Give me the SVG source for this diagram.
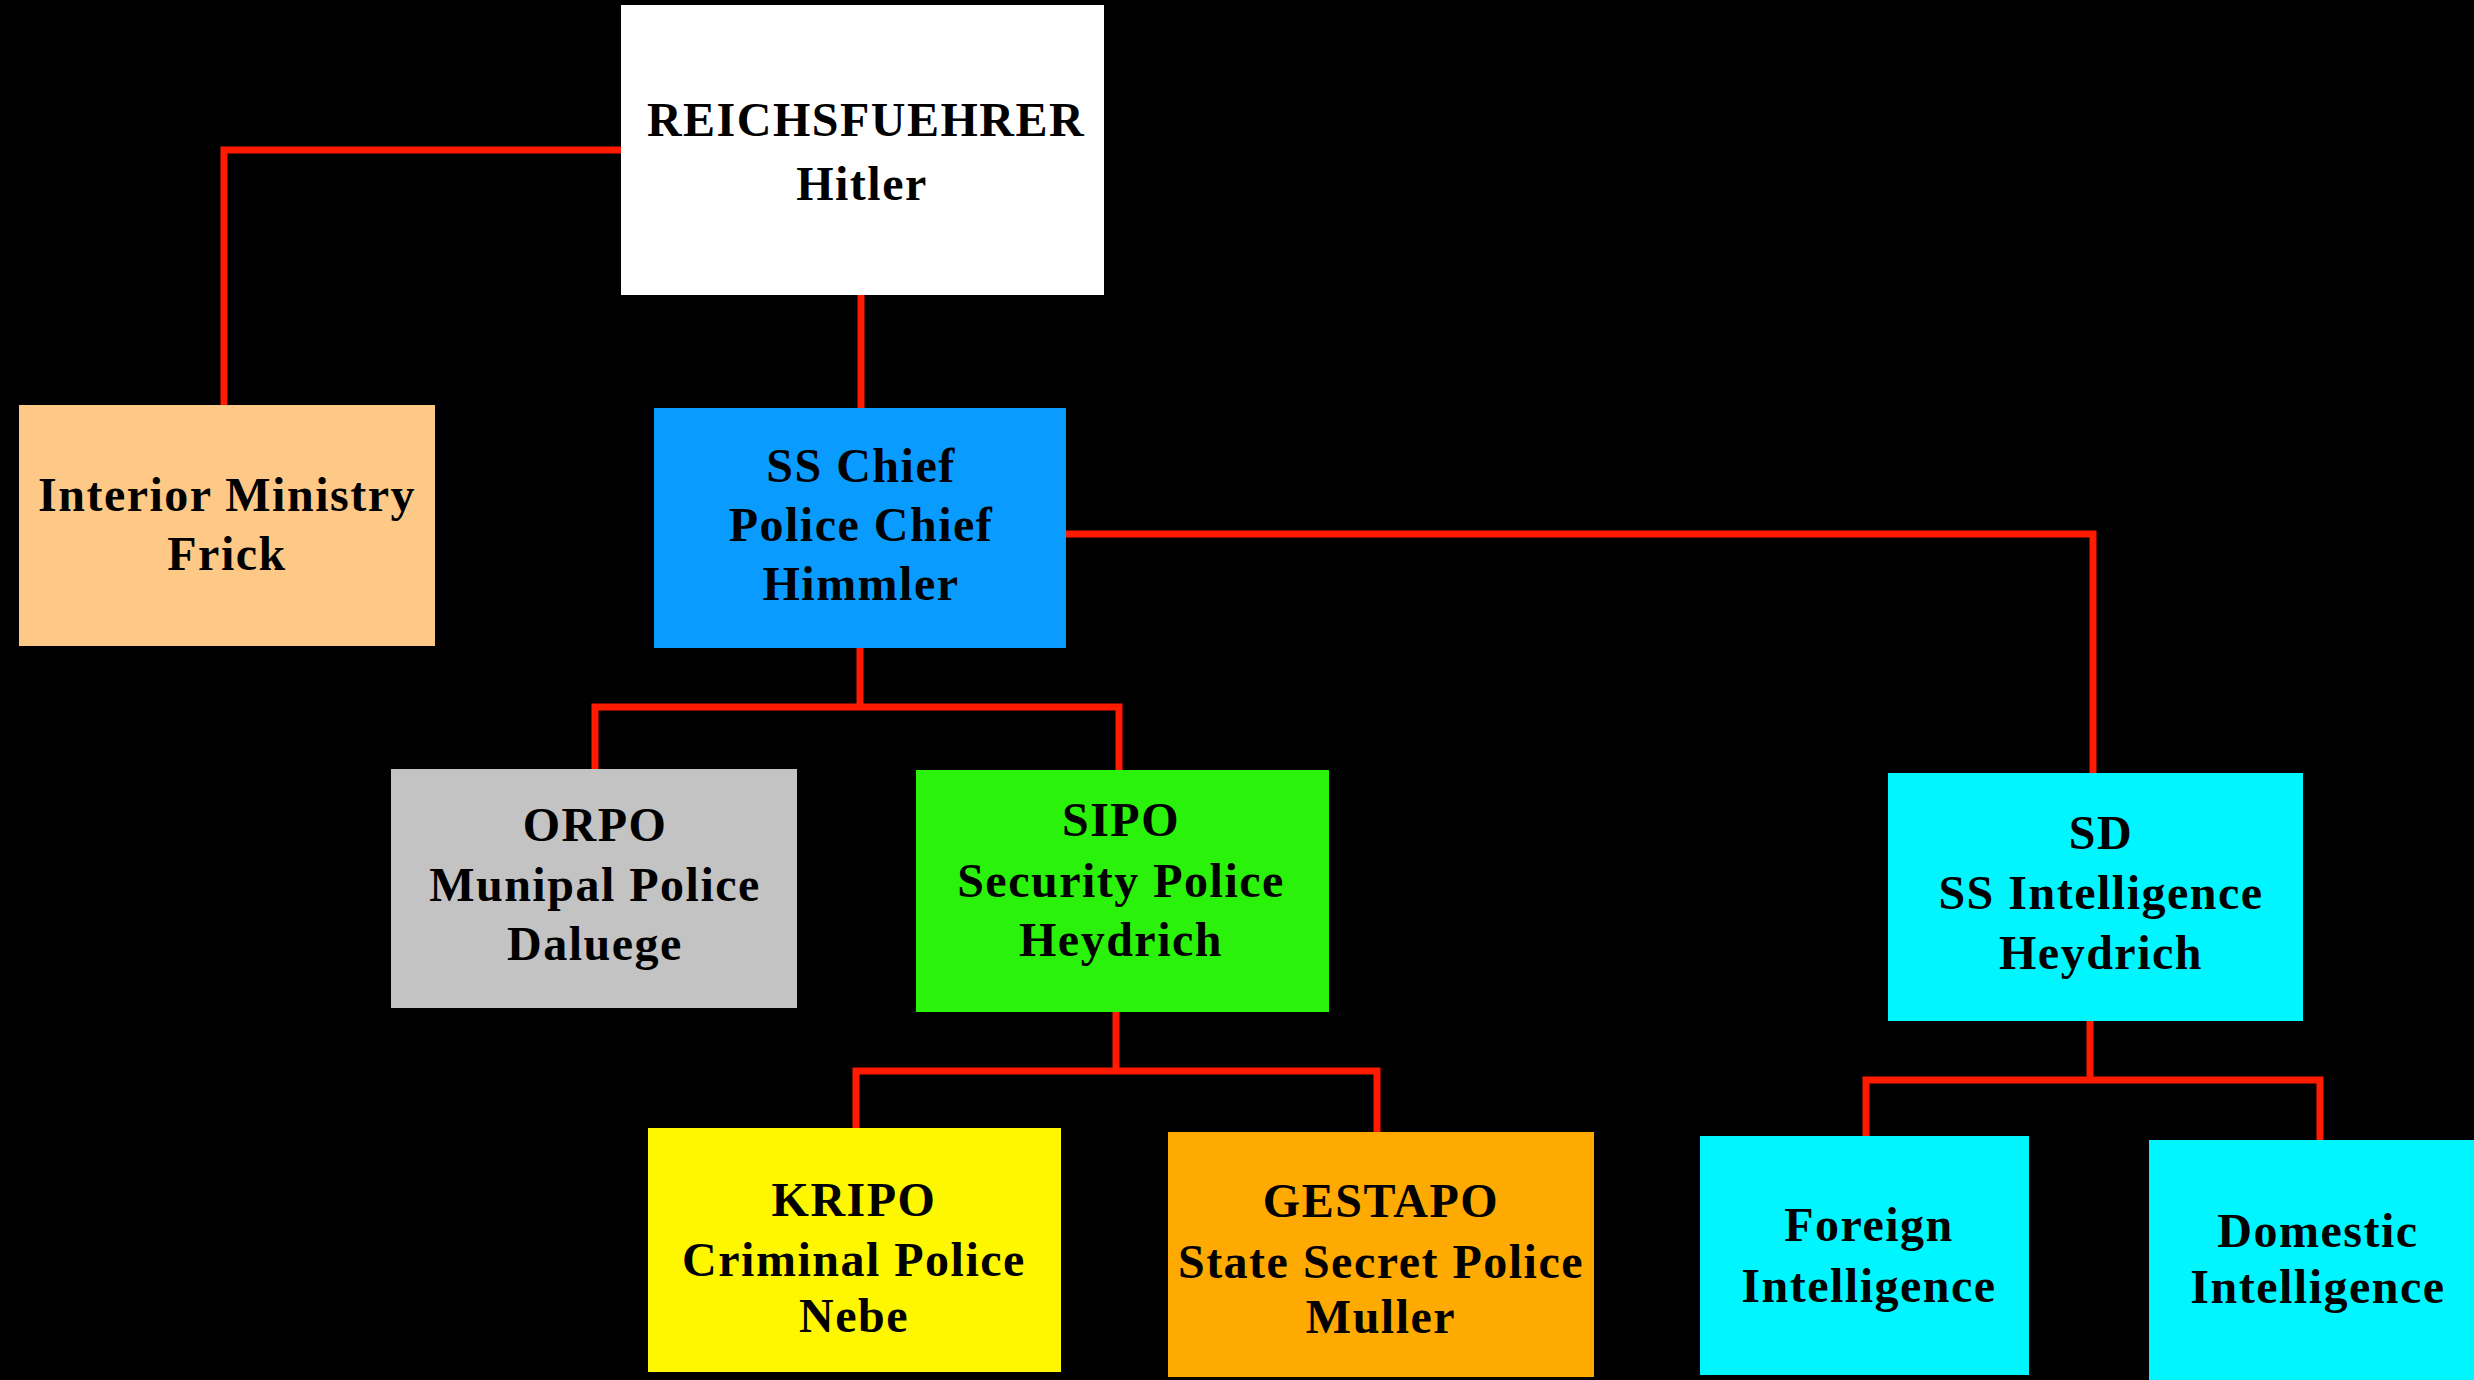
<svg xmlns="http://www.w3.org/2000/svg" width="2474" height="1380" viewBox="0 0 2474 1380">
<style>
.box{stroke:none}
.t{font-family:"Liberation Serif","Times New Roman",serif;font-weight:bold;font-size:48px;fill:#000;text-anchor:middle;letter-spacing:1.5px}
.c{fill:none;stroke:#ff1a00;stroke-width:7;stroke-linecap:square}
</style>
<rect width="2474" height="1380" fill="#000"/>
<g id="connectors">
<path class="c" d="M621,150 H224 V405"/>
<path class="c" d="M861,295 V408"/>
<path class="c" d="M1066,534 H2093 V773"/>
<path class="c" d="M860,648 V707 M595,769 V707 H1119 V770"/>
<path class="c" d="M1116,1012 V1071 M856,1128 V1071 H1377 V1132"/>
<path class="c" d="M2090,1022 V1080 M1866,1136 V1080 H2320 V1140"/>
</g>
<g id="reichsfuehrer">
<rect class="box" x="621" y="5" width="483" height="290" fill="#ffffff"/>
<text class="t" x="866" y="136">REICHSFUEHRER</text>
<text class="t" x="862" y="200">Hitler</text>
</g>
<g id="interior">
<rect class="box" x="19" y="405" width="416" height="241" fill="#fec987"/>
<text class="t" x="227" y="511">Interior Ministry</text>
<text class="t" x="227" y="570">Frick</text>
</g>
<g id="sschief">
<rect class="box" x="654" y="408" width="412" height="240" fill="#0a9bff"/>
<text class="t" x="861" y="482">SS Chief</text>
<text class="t" x="861" y="541">Police Chief</text>
<text class="t" x="861" y="600">Himmler</text>
</g>
<g id="orpo">
<rect class="box" x="391" y="769" width="406" height="239" fill="#c3c3c3"/>
<text class="t" x="595" y="841">ORPO</text>
<text class="t" x="595" y="901">Munipal Police</text>
<text class="t" x="595" y="960">Daluege</text>
</g>
<g id="sipo">
<rect class="box" x="916" y="770" width="413" height="242" fill="#2bf20a"/>
<text class="t" x="1121" y="836">SIPO</text>
<text class="t" x="1121" y="897">Security Police</text>
<text class="t" x="1121" y="956">Heydrich</text>
</g>
<g id="sd">
<rect class="box" x="1888" y="773" width="415" height="248" fill="#00f6ff"/>
<text class="t" x="2101" y="849">SD</text>
<text class="t" x="2101" y="909">SS Intelligence</text>
<text class="t" x="2101" y="969">Heydrich</text>
</g>
<g id="kripo">
<rect class="box" x="648" y="1128" width="413" height="244" fill="#fff700"/>
<text class="t" x="854" y="1216">KRIPO</text>
<text class="t" x="854" y="1276">Criminal Police</text>
<text class="t" x="854" y="1332">Nebe</text>
</g>
<g id="gestapo">
<rect class="box" x="1168" y="1132" width="426" height="245" fill="#ffaa00"/>
<text class="t" x="1381" y="1217">GESTAPO</text>
<text class="t" x="1381" y="1278">State Secret Police</text>
<text class="t" x="1381" y="1333">Muller</text>
</g>
<g id="foreign">
<rect class="box" x="1700" y="1136" width="329" height="239" fill="#00f6ff"/>
<text class="t" x="1869" y="1241">Foreign</text>
<text class="t" x="1869" y="1302">Intelligence</text>
</g>
<g id="domestic">
<rect class="box" x="2149" y="1140" width="330" height="245" fill="#00f6ff"/>
<text class="t" x="2318" y="1247">Domestic</text>
<text class="t" x="2318" y="1303">Intelligence</text>
</g>
</svg>
